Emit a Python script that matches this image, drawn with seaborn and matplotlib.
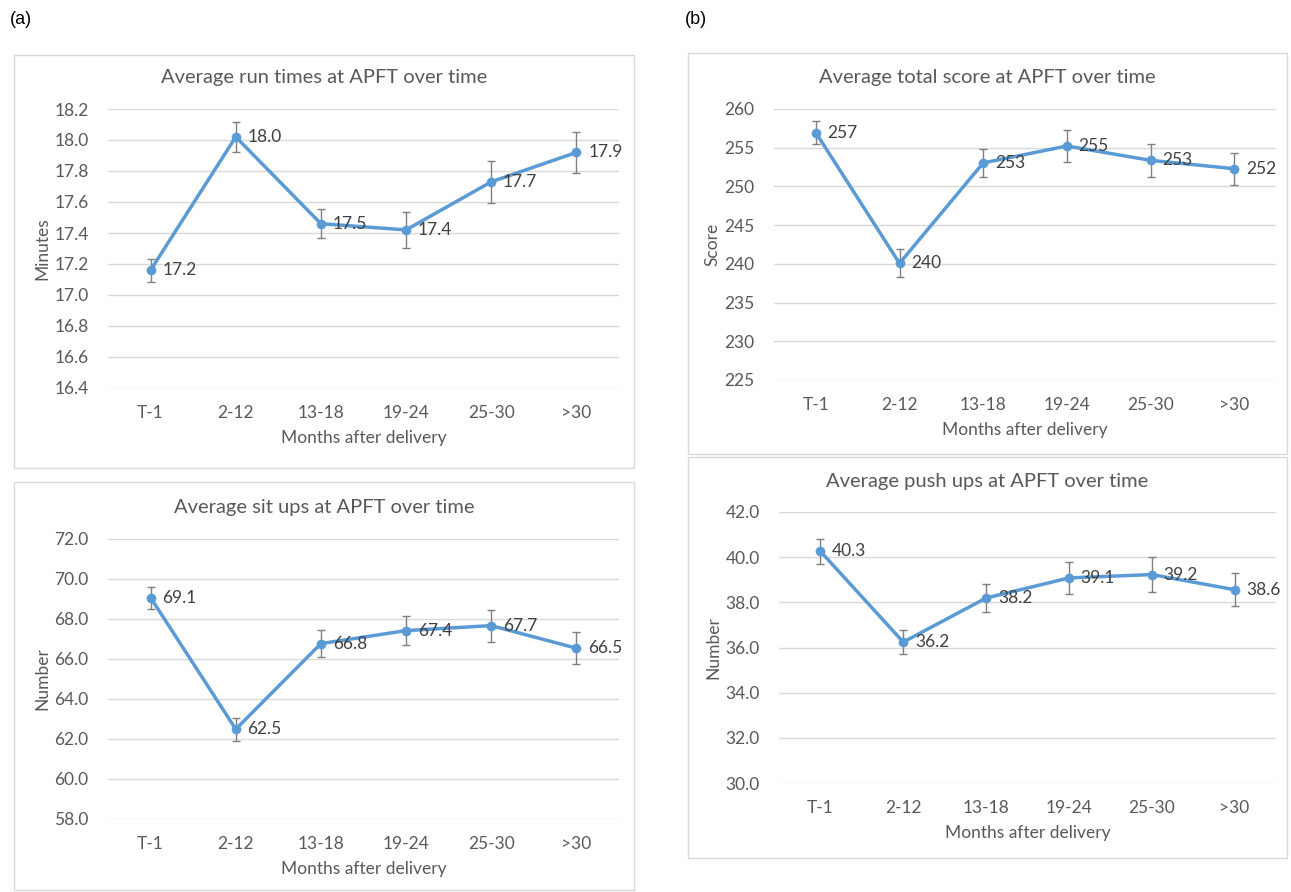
import matplotlib

matplotlib.use("Agg")
import matplotlib.pyplot as plt
from matplotlib.patches import Rectangle
import pandas as pd
import seaborn as sns

# ---- data ----
months = ["T-1", "2-12", "13-18", "19-24", "25-30", ">30"]

run_mean = [17.16, 18.02, 17.46, 17.42, 17.73, 17.92]
run_err = [0.075, 0.095, 0.095, 0.117, 0.134, 0.13]

score_mean = [256.94, 240.07, 253.03, 255.22, 253.37, 252.29]
score_err = [1.45, 1.8, 1.8, 2.05, 2.13, 2.05]

situp_mean = [69.07, 62.49, 66.77, 67.42, 67.67, 66.54]
situp_err = [0.55, 0.58, 0.67, 0.74, 0.8, 0.79]

pushup_mean = [40.26, 36.24, 38.19, 39.08, 39.23, 38.56]
pushup_err = [0.55, 0.54, 0.6, 0.7, 0.78, 0.74]

BLUE = "#5B9BD5"
TEXT = "#595959"
GRID = "#D9D9D9"

W, H = 1291, 892

sns.set_theme(style="white")
plt.rcParams["font.family"] = ["Lato", "DejaVu Sans"]
plt.rcParams["text.color"] = TEXT


def px_rect(left, top, right, bottom):
    return [left / W, 1 - bottom / H, (right - left) / W, (bottom - top) / H]


def draw_panel(fig, rect, box, title, ylabel, means, errs, ylim, ystep, fmt, title_y):
    # outer chart frame, Excel style
    bl, bt, br, bb = box
    fig.patches.append(Rectangle((bl / W, 1 - bb / H), (br - bl) / W, (bb - bt) / H,
                                 transform=fig.transFigure, fill=False,
                                 edgecolor=GRID, linewidth=1.0))
    fig.text((bl + br) / 2 / W, 1 - title_y / H, title, ha="center", va="center",
             fontsize=14.5, color=TEXT)

    ax = fig.add_axes(px_rect(*rect))
    df = pd.DataFrame({"pos": range(len(months)), "value": means, "err": errs})
    ax.errorbar(df["pos"], df["value"], yerr=df["err"], fmt="none",
                ecolor="#7F7F7F", elinewidth=1.0, capsize=3, capthick=1.0, zorder=2)
    sns.lineplot(data=df, x="pos", y="value", ax=ax, color=BLUE, linewidth=2.5,
                 marker="o", markersize=7, markeredgewidth=0, zorder=3)
    for x, v in zip(df["pos"], df["value"]):
        ax.annotate(fmt.format(v), (x, v), xytext=(8.5, 0), textcoords="offset points",
                    ha="left", va="center", fontsize=12.5, color="#404040", zorder=4)

    ax.set_xlim(-0.5, len(months) - 0.5)
    ax.set_ylim(*ylim)
    ticks = []
    t = ylim[0]
    while t <= ylim[1] + 1e-9:
        ticks.append(round(t, 4))
        t += ystep
    ax.set_yticks(ticks)
    decimals = 0 if fmt == "{:.0f}" else 1
    ax.set_yticklabels([f"{t:.{decimals}f}" for t in ticks])
    ax.set_xticks(range(len(months)))
    ax.set_xticklabels(months)
    ax.tick_params(axis="both", length=0, labelsize=12.5, labelcolor=TEXT)
    ax.tick_params(axis="y", pad=14)
    ax.tick_params(axis="x", pad=12)
    ax.yaxis.grid(True, color=GRID, linewidth=1.0)
    ax.xaxis.grid(False)
    for s in ax.spines.values():
        s.set_visible(False)
    ax.set_facecolor("none")
    ax.set_xlabel("Months after delivery", fontsize=12.5, color=TEXT, labelpad=7)
    ax.set_ylabel(ylabel, fontsize=12.5, color=TEXT, labelpad=3)
    return ax


fig = plt.figure(figsize=(W / 100, H / 100), dpi=100)
fig.patch.set_facecolor("white")

fig.text(10 / W, 1 - 20 / H, "(a)", fontsize=13, color="black",
         family=["Liberation Sans", "DejaVu Sans"], va="center", ha="left")
fig.text(685 / W, 1 - 20 / H, "(b)", fontsize=13, color="black",
         family=["Liberation Sans", "DejaVu Sans"], va="center", ha="left")

draw_panel(fig, (108, 109, 619, 388), (14, 55, 634, 468),
           "Average run times at APFT over time", "Minutes",
           run_mean, run_err, (16.4, 18.2), 0.2, "{:.1f}", 78)
draw_panel(fig, (108, 539, 619, 819), (14, 482, 634, 890),
           "Average sit ups at APFT over time", "Number",
           situp_mean, situp_err, (58, 72), 2, "{:.1f}", 507)
draw_panel(fig, (774, 109, 1276, 380), (688, 53, 1287, 454),
           "Average total score at APFT over time", "Score",
           score_mean, score_err, (225, 260), 5, "{:.0f}", 77)
draw_panel(fig, (779, 512, 1276, 783), (688, 457, 1287, 858),
           "Average push ups at APFT over time", "Number",
           pushup_mean, pushup_err, (30, 42), 2, "{:.1f}", 482)

fig.savefig("out.png", dpi=100)
